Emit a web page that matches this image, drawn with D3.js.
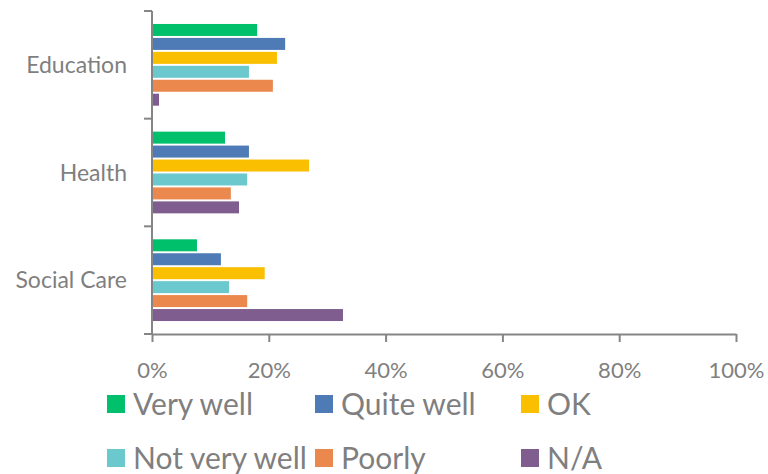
<!DOCTYPE html>
<html>
<head>
<meta charset="utf-8">
<script src="https://cdn.jsdelivr.net/npm/d3@7"></script>
<style>
  body { margin: 0; background: #fff; }
  text { font-family: Lato, "Open Sans", sans-serif; fill: #7f7f7f; }
</style>
</head>
<body>
<svg></svg>
<script>
var WIDTH = 768;
var HEIGHT = 474;

// data (share of responses)
var categories = ['Education', 'Health', 'Social Care'];
var seriesNames = ['Very well', 'Quite well', 'OK', 'Not very well', 'Poorly', 'N/A'];
var veryWell   = [0.180, 0.125, 0.077];
var quiteWell  = [0.228, 0.166, 0.118];
var ok         = [0.214, 0.269, 0.193];
var notVeryWell = [0.166, 0.163, 0.132];
var poorly     = [0.207, 0.135, 0.163];
var na         = [0.012, 0.149, 0.327];
var xTicks = [0, 0.2, 0.4, 0.6, 0.8, 1];

var seriesValues = [veryWell, quiteWell, ok, notVeryWell, poorly, na];
var colors = ['#00c06c', '#4e7bb6', '#f9bf00', '#6bc9cd', '#ea884e', '#7f5e8f'];

var svg = d3.select('svg')
  .attr('width', WIDTH)
  .attr('height', HEIGHT);

var xScale = d3.scaleLinear().domain([0, 1]).range([152, 736]);
var yScale = d3.scaleBand().domain(categories).range([11, 334]);
var inner = d3.scaleBand().domain(seriesNames)
  .range([0, yScale.bandwidth()])
  .paddingInner(0.14)
  .paddingOuter(0.93);

// bars
var groups = svg.append('g').selectAll('g')
  .data(categories)
  .enter().append('g')
  .attr('transform', function(d){ return 'translate(0,' + yScale(d) + ')'; });

groups.selectAll('rect')
  .data(function(d, i){
    return seriesNames.map(function(s, j){ return {name: s, value: seriesValues[j][i], color: colors[j]}; });
  })
  .enter().append('rect')
  .attr('x', xScale(0))
  .attr('y', function(d){ return inner(d.name); })
  .attr('height', inner.bandwidth())
  .attr('width', function(d){ return xScale(d.value) - xScale(0); })
  .attr('fill', function(d){ return d.color; });

// x axis
var bottomAxis = d3.axisBottom(xScale)
  .tickValues(xTicks)
  .tickFormat(d3.format('.0%'))
  .tickSize(8)
  .tickSizeOuter(0);
var xAxis = svg.append('g')
  .attr('transform', 'translate(0,334)')
  .call(bottomAxis);
xAxis.selectAll('.tick text')
  .attr('y', 44)
  .attr('dy', 0)
  .style('font-size', '22px')
  .style('fill', '#7f7f7f');
xAxis.select('.domain').attr('stroke', '#858585').attr('stroke-width', 2);
xAxis.selectAll('.tick line').attr('stroke', '#858585').attr('stroke-width', 2);

// y axis: ticks at category boundaries, labels centred in bands
var boundaries = [yScale.range()[0]].concat(categories.map(function(c){ return yScale(c) + yScale.bandwidth(); }));
var yAxis = svg.append('g');
yAxis.append('line')
  .attr('x1', xScale(0)).attr('x2', xScale(0))
  .attr('y1', yScale.range()[0]).attr('y2', yScale.range()[1]);
yAxis.selectAll('.tick')
  .data(boundaries)
  .enter().append('line')
  .attr('x1', xScale(0) - 8).attr('x2', xScale(0))
  .attr('y1', function(d){ return d; }).attr('y2', function(d){ return d; });
yAxis.selectAll('line').attr('stroke', '#858585').attr('stroke-width', 2);
yAxis.selectAll('text')
  .data(categories)
  .enter().append('text')
  .attr('x', 127)
  .attr('y', function(d){ return yScale(d) + yScale.bandwidth() / 2; })
  .attr('dy', '0.35em')
  .attr('text-anchor', 'end')
  .style('font-size', '23px')
  .text(function(d){ return d; });

// legend
var legendX = [107, 315, 521];
var legendY = [404, 458];
var legend = svg.append('g').selectAll('g')
  .data(seriesNames)
  .enter().append('g')
  .attr('transform', function(d, i){ return 'translate(' + legendX[i % 3] + ',' + legendY[Math.floor(i / 3)] + ')'; });
legend.append('rect')
  .attr('x', 0).attr('y', -9)
  .attr('width', 18).attr('height', 18)
  .attr('fill', function(d, i){ return colors[i]; });
legend.append('text')
  .attr('x', 26)
  .attr('dy', '0.35em')
  .style('font-size', '30px')
  .text(function(d){ return d; });
</script>
</body>
</html>
